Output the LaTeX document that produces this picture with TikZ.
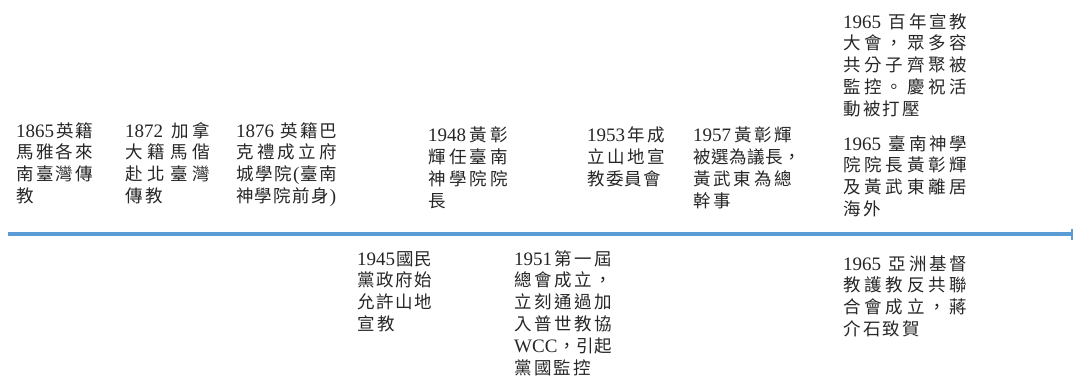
\documentclass[tikz,border=0pt]{standalone}
\usepackage{fontspec}
\setmainfont{Noto Sans CJK TC}
\newfontfamily\latf{Liberation Serif}
\usetikzlibrary{arrows.meta}
\definecolor{axisblue}{RGB}{91,155,213}
\definecolor{txt}{RGB}{38,38,38}
\newcommand{\D}[1]{{\latf\fontsize{19}{22}\selectfont #1}}
\def\sprA#1{#1\sprB}
\def\sprB#1{\ifx\relax#1\else\hfil#1\expandafter\sprB\fi}
\newcommand{\J}[2]{\makebox[#1pt][s]{\sprA#2\relax}}
\tikzset{
  ev/.style={anchor=base west, inner sep=0pt, text=txt,
    font=\fontsize{17.5}{21.9}\selectfont},
  axisline/.style={draw=axisblue, line width=3.5pt, -{Bar[width=11pt,line width=2pt]}}
}
\newcommand{\blk}[1]{\begin{tabular}[t]{@{}l@{}}#1\end{tabular}}
\begin{document}
\begin{tikzpicture}[x=1pt,y=-1pt]
\useasboundingbox (0,0) rectangle (1075,378);
\clip (0,0) rectangle (1075,378);
\coordinate (tl) at (8,234);
\coordinate (tr) at (1073,234);
\draw[axisline] (tl) -- (tr);
\node[ev] (n1865) at (16,137) {\blk{\J{77}{{\D{1865}}英籍}\\ \J{77}{馬雅各來}\\ \J{77}{南臺灣傳}\\ 教}};
\node[ev] (n1872) at (125,137) {\blk{\J{85}{{\D{1872\ }}加拿}\\ \J{85}{大籍馬偕}\\ \J{85}{赴北臺灣}\\ \J{38}{傳教}}};
\node[ev] (n1876) at (236,137) {\blk{\J{101}{{\D{1876\ }}英籍巴}\\ \J{101}{克禮成立府}\\ \J{101}{城學院{\D{(}}臺南}\\ \J{100}{神學院前身{\D{)}}}}};
\node[ev] (n1948) at (428,141.5) {\blk{\J{80}{{\D{1948}}黃彰}\\ \J{80}{輝任臺南}\\ \J{80}{神學院院}\\ 長}};
\node[ev] (n1953) at (587,141.5) {\blk{\J{78}{{\D{1953}}年成}\\ \J{78}{立山地宣}\\ \J{74}{教委員會}}};
\node[ev] (n1957) at (693,141.5) {\blk{\J{99}{{\D{1957}}黃彰輝}\\ \J{108}{被選為議長，}\\ \J{99}{黃武東為總}\\ \J{38}{幹事}}};
\node[ev] (n1965a) at (843,28) {\blk{\J{124}{{\D{1965\ }}百年宣教}\\ \J{124}{大會，眾多容}\\ \J{124}{共分子齊聚被}\\ \J{124}{監控。慶祝活}\\ \J{77}{動被打壓}}};
\node[ev] (n1965b) at (843,150) {\blk{\J{124}{{\D{1965\ }}臺南神學}\\ \J{124}{院院長黃彰輝}\\ \J{124}{及黃武東離居}\\ \J{38}{海外}}};
\node[ev] (n1965c) at (843,270) {\blk{\J{124}{{\D{1965\ }}亞洲基督}\\ \J{124}{教護教反共聯}\\ \J{124}{合會成立，蔣}\\ \J{77}{介石致賀}}};
\node[ev] (n1945) at (357,265) {\blk{\J{75}{{\D{1945}}國民}\\ \J{75}{黨政府始}\\ \J{75}{允許山地}\\ \J{38}{宣教}}};
\node[ev] (n1951) at (514,265) {\blk{\J{98}{{\D{1951}}第一屆}\\ \J{98}{總會成立，}\\ \J{98}{立刻通過加}\\ \J{98}{入普世教協}\\ \J{98}{{\D{WCC}}，引起}\\ \J{77}{黨國監控}}};
\end{tikzpicture}
\end{document}
